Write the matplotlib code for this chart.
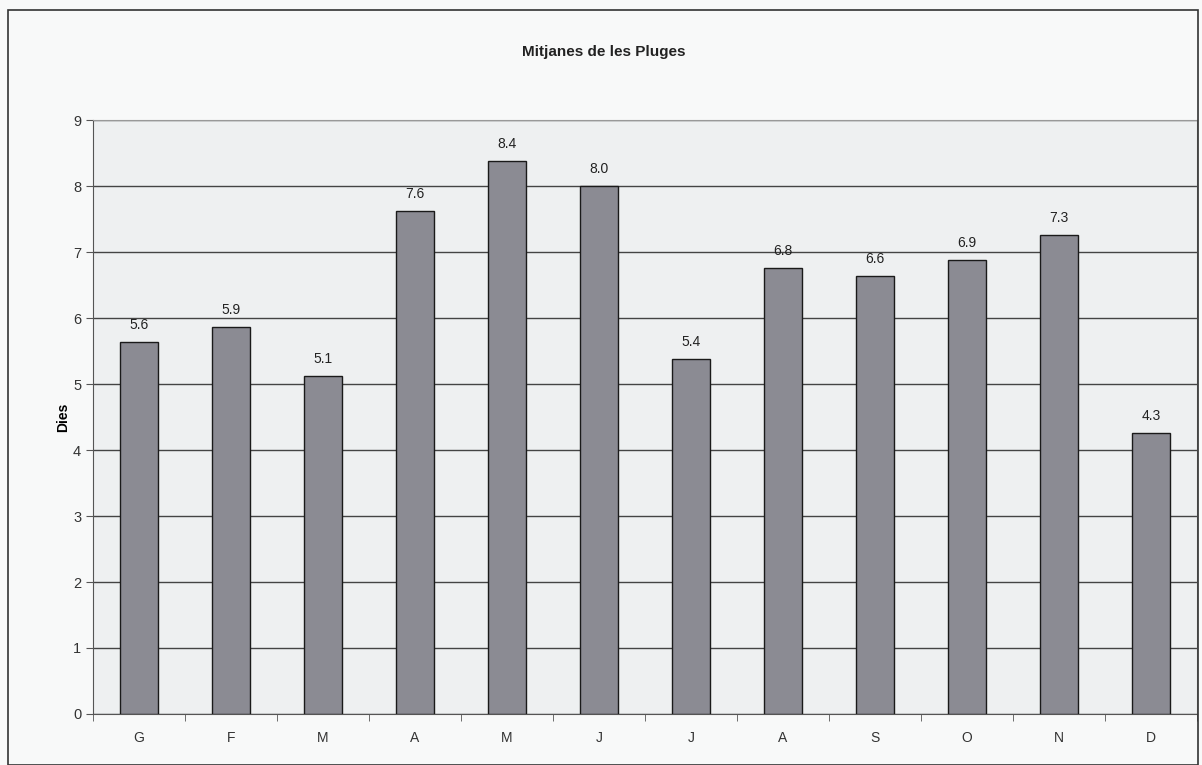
import matplotlib.pyplot as plt
import numpy as np
from matplotlib.patches import Rectangle

plt.rcParams['font.family'] = ['Liberation Sans', 'DejaVu Sans']

mesos = ["G", "F", "M", "A", "M", "J", "J", "A", "S", "O", "N", "D"]
dies = [5.64, 5.86, 5.12, 7.62, 8.38, 8.0, 5.38, 6.76, 6.64, 6.88, 7.26, 4.26]

fig = plt.figure(figsize=(12.02, 7.65), dpi=100, facecolor="#f8f9f9")
# outer frame of the chart
fig.patches.append(Rectangle((0.007, 0.0), 0.99, 0.987, transform=fig.transFigure,
                             fill=False, edgecolor="#333333", linewidth=1.2))

ax = fig.add_axes([0.0774, 0.0667, 0.9184, 0.7763])
ax.set_facecolor("#eef0f1")

x = np.arange(len(mesos))
bars = ax.bar(x, dies, width=0.42, color="#8b8b93", edgecolor="#1a1a1a", linewidth=1.0, zorder=3)
for xi, v in zip(x, dies):
    ax.text(xi, v + 0.15, f"{v:.1f}", ha="center", va="bottom", fontsize=10, color="#222222")

ax.set_xlim(-0.5, len(mesos) - 0.5)
ax.set_ylim(0, 9)
ax.set_yticks(range(10))
ax.yaxis.grid(True, color="#444444", linewidth=1.0, zorder=0)
ax.set_axisbelow(True)

ax.set_xticks(x)
ax.set_xticklabels(mesos, fontsize=10, color="#333333")
ax.set_xticks(np.arange(-0.5, len(mesos)), minor=True)
ax.tick_params(axis="x", which="major", length=0, pad=12)
ax.tick_params(axis="x", which="minor", length=5, color="#555555")
ax.tick_params(axis="y", length=5, labelsize=10.5, labelcolor="#333333", color="#555555")

for s in ["top", "right"]:
    ax.spines[s].set_color("#999999")
    ax.spines[s].set_linewidth(0.8)
for s in ["left", "bottom"]:
    ax.spines[s].set_color("#555555")

ax.set_ylabel("Dies", fontsize=10, fontweight="bold", labelpad=2)
fig.text(0.502, 0.932, "Mitjanes de les Pluges", ha="center", va="center",
         fontsize=11, fontweight="bold", color="#222222")

fig.savefig("out.png", dpi=100, facecolor=fig.get_facecolor())
